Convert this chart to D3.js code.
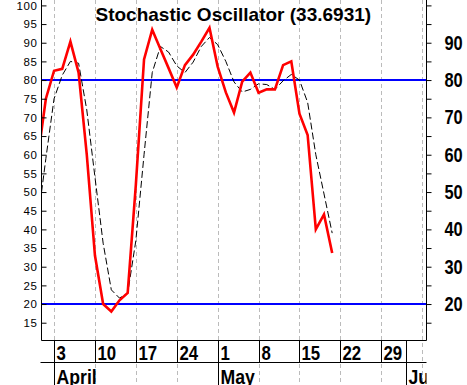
<!DOCTYPE html>
<head>
<meta charset="utf-8">
<style>
body { margin: 0; background: #fff; }
.narrow { font-family: "Liberation Sans Narrow", "Arial Narrow", Arial, "Liberation Sans", sans-serif; font-weight: bold; }
</style>
</head>
<body>
<script src="https://d3js.org/d3.v7.min.js"></script>
<script>

// trading days shown (weekdays), first two are before the axis starts
var dates = ["2017-03-30","2017-03-31",
  "2017-04-03","2017-04-04","2017-04-05","2017-04-06","2017-04-07",
  "2017-04-10","2017-04-11","2017-04-12","2017-04-13","2017-04-14",
  "2017-04-17","2017-04-18","2017-04-19","2017-04-20","2017-04-21",
  "2017-04-24","2017-04-25","2017-04-26","2017-04-27","2017-04-28",
  "2017-05-01","2017-05-02","2017-05-03","2017-05-04","2017-05-05",
  "2017-05-08","2017-05-09","2017-05-10","2017-05-11","2017-05-12",
  "2017-05-15","2017-05-16","2017-05-17","2017-05-18","2017-05-19"];

// %K (red) and %D (black dashed)
var kValues = [59, 75,
  82.5, 83, 90.3, 82, 60,
  33, 20, 18, 21, 23,
  52, 85.5, 93.5, 88.3, 83.2,
  78, 84, 86.8, 90.3, 94,
  83.6, 76.7, 71.3, 79.6, 82,
  76.6, 77.5, 77.5, 84, 85,
  71, 65.3, 40, 44, 33.6931];
var dValues = [42, 59,
  75, 81.3, 85, 84.5, 72,
  54, 36.3, 23.8, 21.6, 22.9,
  37, 60, 82, 89, 87.5,
  83.8, 82, 84.8, 89, 91.4,
  89.5, 85, 79.5, 76.8, 77.5,
  79, 78.8, 77.5, 79.8, 81.5,
  80, 74, 60, 49.5, 39];

var weekTicks = ["2017-04-03","2017-04-10","2017-04-17","2017-04-24","2017-05-01",
  "2017-05-08","2017-05-15","2017-05-22","2017-05-29","2017-06-05"];
var weekLabels = ["3","10","17","24","1","8","15","22","29",""];
var monthStarts = ["2017-04-03","2017-05-01","2017-06-01"];
var monthLabels = ["April","May","June"];
var levels = [80, 20];

var title = "Stochastic Oscillator (33.6931)";

var W = 467, H = 385;
var left = 41.5, right = 426.5, bottom = 340.5;

var parse = d3.timeParse("%Y-%m-%d");
var monday0 = d3.timeMonday.floor(parse(dates[0]));
// weekday position counted from the first date
function weekdayPos(d) {
  return d3.timeMonday.count(monday0, d) * 5 + ((d.getDay() + 6) % 7);
}
var first = weekdayPos(parse(dates[0]));
function dayIndex(s) { return weekdayPos(parse(s)) - first; }

var x = d3.scaleLinear().domain([0.465, 47.53]).range([left, right]);
var y = d3.scaleLinear().domain([0, 100]).range([378.7, 5.4]);

var svg = d3.select("body").append("svg")
    .attr("width", W).attr("height", H)
    .style("font-family", "Arial, 'Liberation Sans', sans-serif");

var defs = svg.append("defs");
defs.append("clipPath").attr("id", "plot")
  .append("rect").attr("x", left).attr("y", 0).attr("width", right - left).attr("height", bottom);
defs.append("clipPath").attr("id", "axisclip")
  .append("rect").attr("x", 0).attr("y", 0).attr("width", right).attr("height", H);

// squeeze bold text into a narrow face
function narrow(sel, f) {
  sel.each(function() {
    var w = this.getComputedTextLength();
    if (w > 0) d3.select(this).attr("textLength", w * f).attr("lengthAdjust", "spacingAndGlyphs");
  });
}

// vertical dashed gridlines
svg.append("g").selectAll("line").data(weekTicks).enter().append("line")
    .attr("x1", function(d) { return Math.round(x(dayIndex(d))) + 0.5; })
    .attr("x2", function(d) { return Math.round(x(dayIndex(d))) + 0.5; })
    .attr("y1", 0).attr("y2", H)
    .style("stroke", "#bbb").style("stroke-dasharray", "4,3");

// 80 / 20 levels
svg.append("g").selectAll("line").data(levels).enter().append("line")
    .attr("x1", left).attr("x2", right)
    .attr("y1", function(d) { return y(d); }).attr("y2", function(d) { return y(d); })
    .style("stroke", "#0000ff").style("stroke-width", 2);

var idx = dates.map(function(d, i) { return i; });

var line = function(vals) {
  return d3.line()
    .x(function(i) { return x(i); })
    .y(function(i) { return y(vals[i]); })(idx);
};

var lines = svg.append("g").attr("clip-path", "url(#plot)");
lines.append("path").attr("d", line(dValues))
    .style("fill", "none").style("stroke", "#000").style("stroke-width", 1)
    .style("stroke-dasharray", "7,3");
lines.append("path").attr("d", line(kValues))
    .style("fill", "none").style("stroke", "#ff0000").style("stroke-width", 2.6);

// left axis
var gl = svg.append("g").attr("transform", "translate(" + left + ",0)");
gl.call(d3.axisLeft(y).tickValues(d3.range(11, 102)).tickSizeInner(-2).tickSizeOuter(0).tickFormat(""));
gl.call(d3.axisLeft(y).tickValues(d3.range(15, 101, 5)).tickSizeInner(-5).tickSizeOuter(0).tickPadding(4));
gl.selectAll(".domain").remove();
gl.selectAll("text").style("font-size", "11.5px").style("font-family", "Arial, 'Liberation Sans', sans-serif")
  .style("letter-spacing", "0.6px");
gl.append("line").attr("y1", 0).attr("y2", bottom).style("stroke", "#000");

// right axis
var gr = svg.append("g").attr("transform", "translate(" + right + ",0)");
gr.call(d3.axisRight(y).tickValues(d3.range(15, 101, 5)).tickSize(5).tickPadding(13)
  .tickFormat(function(d) { return (d % 10 === 0 && d >= 20 && d <= 90) ? d : ""; }));
gr.selectAll(".domain").remove();
gr.selectAll("text").attr("class", "narrow").style("font-size", "20px").call(narrow, 0.82);
gr.append("line").attr("y1", 0).attr("y2", bottom).style("stroke", "#000");

// bottom border and row divider
svg.append("line").attr("x1", left).attr("x2", right).attr("y1", bottom).attr("y2", bottom).style("stroke", "#000");
svg.append("line").attr("x1", left - 1).attr("x2", right).attr("y1", 362.5).attr("y2", 362.5).style("stroke", "#000");

// week row
var wk = svg.append("g").attr("clip-path", "url(#axisclip)");
var weekSeps = weekTicks.slice(0, 9).concat(["2017-06-01"]);
wk.selectAll("line.sep").data(weekSeps).enter().append("line")
    .attr("x1", function(d) { return Math.round(x(dayIndex(d))) + 0.5; })
    .attr("x2", function(d) { return Math.round(x(dayIndex(d))) + 0.5; })
    .attr("y1", bottom).attr("y2", 362.5).style("stroke", "#000");
wk.selectAll("text.wk").data(weekTicks).enter().append("text")
    .attr("class", "narrow")
    .attr("x", function(d) { return Math.round(x(dayIndex(d))) + 2.5; })
    .attr("y", 359.5)
    .style("font-size", "20.5px")
    .text(function(d, i) { return weekLabels[i]; })
    .call(narrow, 0.82);

// month row
wk.selectAll("line.msep").data(monthStarts).enter().append("line")
    .attr("x1", function(d) { return Math.round(x(dayIndex(d))) + 0.5; })
    .attr("x2", function(d) { return Math.round(x(dayIndex(d))) + 0.5; })
    .attr("y1", 362.5).attr("y2", H).style("stroke", "#000");
wk.selectAll("text.mo").data(monthStarts).enter().append("text")
    .attr("class", "narrow")
    .attr("x", function(d) { return Math.round(x(dayIndex(d))) + 2.5; })
    .attr("y", 383.5)
    .style("font-size", "21px")
    .text(function(d, i) { return monthLabels[i]; })
    .call(narrow, 0.84);

// title
svg.append("text")
    .attr("x", 233.3).attr("y", 21)
    .attr("text-anchor", "middle")
    .style("font-size", "19px").style("font-weight", "bold")
    .text(title);

</script>
</body>
